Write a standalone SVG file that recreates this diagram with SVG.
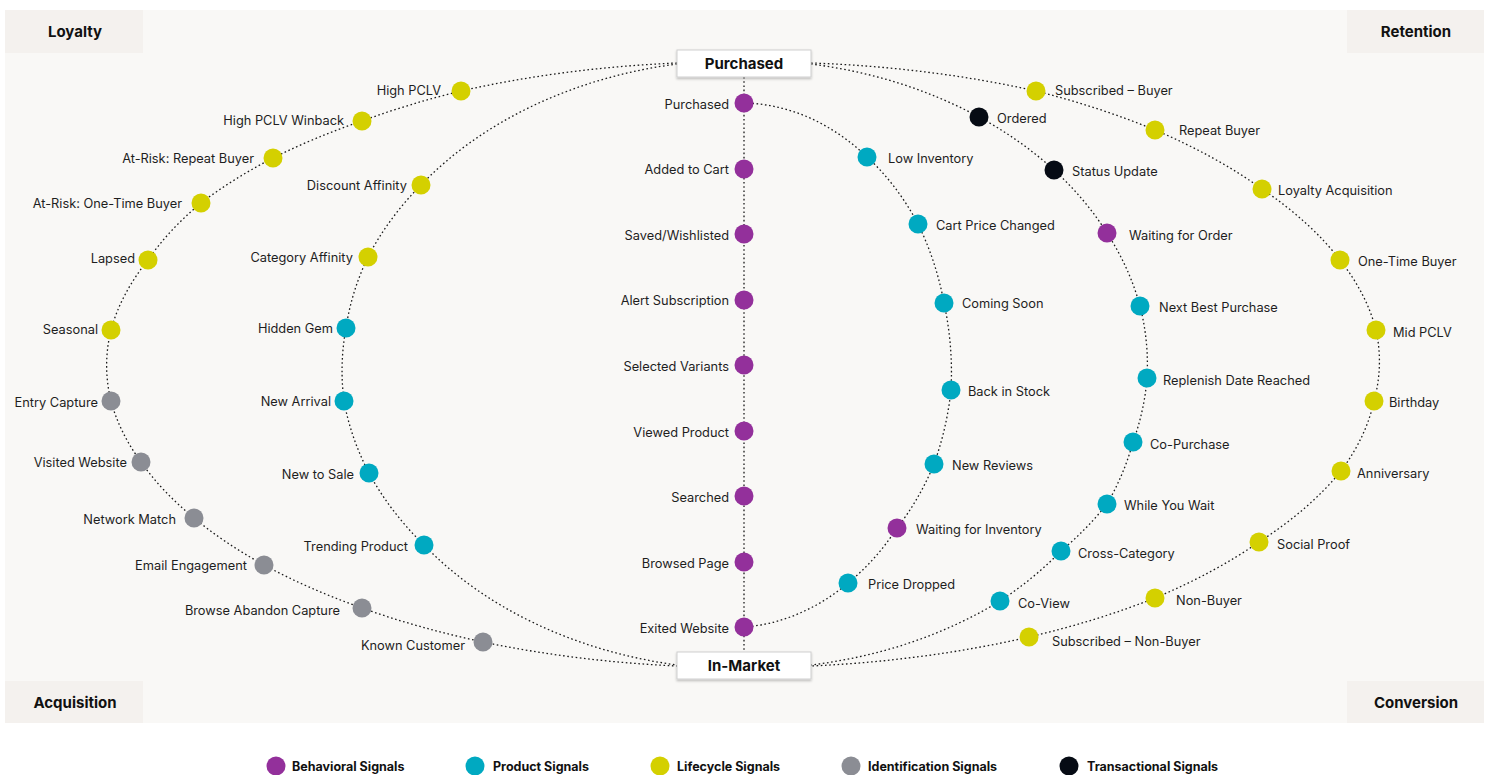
<svg xmlns="http://www.w3.org/2000/svg" width="1489" height="775" viewBox="0 0 1489 775">
<style>
.bg{fill:#F9F8F6}
.corner{fill:#F4F1EE}
.ctitle{font-family:Inter,"Liberation Sans",sans-serif;font-weight:700;font-size:15px;fill:#111;text-anchor:middle}
.lbl{font-family:Inter,"Liberation Sans",sans-serif;font-size:12.8px;fill:#1e1e1e}
.l{text-anchor:end}
.conn{fill:none;stroke:#1a1a1a;stroke-width:1.3;stroke-dasharray:1.6 2.6}
.beh{fill:#93309B}
.prod{fill:#00A9C1}
.life{fill:#D4D000}
.ident{fill:#8B8D94}
.trans{fill:#060B14}
.box{fill:#fff;stroke:#cfcfcf;stroke-width:1}
.boxt{font-family:Inter,"Liberation Sans",sans-serif;font-weight:700;font-size:15px;fill:#111;text-anchor:middle}
.leg{font-family:Inter,"Liberation Sans",sans-serif;font-weight:700;font-size:12.5px;fill:#111}
</style>
<defs>
<filter id="sh" x="-10%" y="-30%" width="120%" height="170%">
<feDropShadow dx="0" dy="1.5" stdDeviation="1" flood-color="#000" flood-opacity="0.25"/>
</filter>
</defs>
<rect class="bg" x="5" y="10" width="1479" height="713"/>
<g id="corner-loyalty"><rect class="corner" x="5" y="10" width="138" height="43"/><text class="ctitle" x="75" y="37">Loyalty</text></g>
<g id="corner-retention"><rect class="corner" x="1347" y="10" width="137" height="43"/><text class="ctitle" x="1416" y="37">Retention</text></g>
<g id="corner-acquisition"><rect class="corner" x="5" y="681" width="138" height="42"/><text class="ctitle" x="75" y="708">Acquisition</text></g>
<g id="corner-conversion"><rect class="corner" x="1347" y="681" width="137" height="42"/><text class="ctitle" x="1416" y="708">Conversion</text></g>

<g id="connectors">
<path class="conn" d="M744,77 L744,652"/>
<path class="conn" d="M677,63 A635,303 0 0 0 461,91 A635,303 0 0 0 362,121 A635,303 0 0 0 273,158 A635,303 0 0 0 201,203 A635,303 0 0 0 148,260 A635,303 0 0 0 111,330 A635,303 0 0 0 111,401 A635,303 0 0 0 141,462 A635,303 0 0 0 194,518 A635,303 0 0 0 264,565 A635,303 0 0 0 362,608 A635,303 0 0 0 483,642 A635,303 0 0 0 677,666"/>
<path class="conn" d="M677,64 A401,306 0 0 0 421,185 A401,306 0 0 0 368,257 A401,306 0 0 0 346,328 A401,306 0 0 0 344,401 A401,306 0 0 0 369,473 A401,306 0 0 0 424,545 A401,306 0 0 0 677,665"/>
<path class="conn" d="M744,103 A208,262 0 0 1 867,157 A208,262 0 0 1 918,224 A208,262 0 0 1 944,303 A208,262 0 0 1 951,390 A208,262 0 0 1 934,464 A208,262 0 0 1 897,528 A208,262 0 0 1 848,583 A208,262 0 0 1 744,627"/>
<path class="conn" d="M811,64 A403,306 0 0 1 979,117 A403,306 0 0 1 1054,170 A403,306 0 0 1 1107,233 A403,306 0 0 1 1140,306 A403,306 0 0 1 1147,378 A403,306 0 0 1 1133,442 A403,306 0 0 1 1107,504 A403,306 0 0 1 1061,551 A403,306 0 0 1 1000,601 A403,306 0 0 1 811,665"/>
<path class="conn" d="M811,63 A635,303 0 0 1 1036,91 A635,303 0 0 1 1155,130 A635,303 0 0 1 1262,189 A635,303 0 0 1 1340,260 A635,303 0 0 1 1376,330 A635,303 0 0 1 1374,401 A635,303 0 0 1 1341,471 A635,303 0 0 1 1259,542 A635,303 0 0 1 1155,598 A635,303 0 0 1 1029,637 A635,303 0 0 1 811,666"/>
</g>

<g id="box-purchased"><rect class="box" filter="url(#sh)" x="677" y="50" width="134" height="27"/><text class="boxt" x="744" y="69">Purchased</text></g>
<g id="box-inmarket"><rect class="box" filter="url(#sh)" x="677" y="652" width="134" height="27"/><text class="boxt" x="744" y="671">In-Market</text></g>

<!-- Left outer -->
<g id="n-high-pclv"><circle class="life" cx="461" cy="91" r="9.5"/><text class="lbl l" x="441" y="94.5">High PCLV</text></g>
<g id="n-high-pclv-winback"><circle class="life" cx="362" cy="121" r="9.5"/><text class="lbl l" x="344" y="125">High PCLV Winback</text></g>
<g id="n-atrisk-repeat"><circle class="life" cx="273" cy="158" r="9.5"/><text class="lbl l" x="254" y="162.5">At-Risk: Repeat Buyer</text></g>
<g id="n-atrisk-onetime"><circle class="life" cx="201" cy="203" r="9.5"/><text class="lbl l" x="182" y="207.5">At-Risk: One-Time Buyer</text></g>
<g id="n-lapsed"><circle class="life" cx="148" cy="260" r="9.5"/><text class="lbl l" x="135" y="262.5">Lapsed</text></g>
<g id="n-seasonal"><circle class="life" cx="111" cy="330" r="9.5"/><text class="lbl l" x="98" y="333.5">Seasonal</text></g>
<g id="n-entry-capture"><circle class="ident" cx="111" cy="401" r="9.5"/><text class="lbl l" x="98" y="406.5">Entry Capture</text></g>
<g id="n-visited-website"><circle class="ident" cx="141" cy="462" r="9.5"/><text class="lbl l" x="127" y="466.5">Visited Website</text></g>
<g id="n-network-match"><circle class="ident" cx="194" cy="518" r="9.5"/><text class="lbl l" x="176" y="523.5">Network Match</text></g>
<g id="n-email-engagement"><circle class="ident" cx="264" cy="565" r="9.5"/><text class="lbl l" x="247" y="569.5">Email Engagement</text></g>
<g id="n-browse-abandon"><circle class="ident" cx="362" cy="608" r="9.5"/><text class="lbl l" x="340" y="614.5">Browse Abandon Capture</text></g>
<g id="n-known-customer"><circle class="ident" cx="483" cy="642" r="9.5"/><text class="lbl l" x="465" y="649.5">Known Customer</text></g>

<!-- Left inner -->
<g id="n-discount-affinity"><circle class="life" cx="421" cy="185" r="9.5"/><text class="lbl l" x="407" y="189.5">Discount Affinity</text></g>
<g id="n-category-affinity"><circle class="life" cx="368" cy="257" r="9.5"/><text class="lbl l" x="353" y="261.5">Category Affinity</text></g>
<g id="n-hidden-gem"><circle class="prod" cx="346" cy="328" r="9.5"/><text class="lbl l" x="333" y="332.5">Hidden Gem</text></g>
<g id="n-new-arrival"><circle class="prod" cx="344" cy="401" r="9.5"/><text class="lbl l" x="331" y="405.5">New Arrival</text></g>
<g id="n-new-to-sale"><circle class="prod" cx="369" cy="473" r="9.5"/><text class="lbl l" x="354" y="478.5">New to Sale</text></g>
<g id="n-trending-product"><circle class="prod" cx="424" cy="545" r="9.5"/><text class="lbl l" x="408" y="550.5">Trending Product</text></g>

<!-- Center -->
<g id="n-purchased"><circle class="beh" cx="744" cy="103" r="9.5"/><text class="lbl l" x="729" y="108.5">Purchased</text></g>
<g id="n-added-to-cart"><circle class="beh" cx="744" cy="169" r="9.5"/><text class="lbl l" x="729" y="173.5">Added to Cart</text></g>
<g id="n-saved"><circle class="beh" cx="744" cy="234" r="9.5"/><text class="lbl l" x="729" y="239.5">Saved/Wishlisted</text></g>
<g id="n-alert-sub"><circle class="beh" cx="744" cy="300" r="9.5"/><text class="lbl l" x="729" y="304.5">Alert Subscription</text></g>
<g id="n-selected-variants"><circle class="beh" cx="744" cy="365" r="9.5"/><text class="lbl l" x="729" y="370.5">Selected Variants</text></g>
<g id="n-viewed-product"><circle class="beh" cx="744" cy="431" r="9.5"/><text class="lbl l" x="729" y="436.5">Viewed Product</text></g>
<g id="n-searched"><circle class="beh" cx="744" cy="496" r="9.5"/><text class="lbl l" x="729" y="501.5">Searched</text></g>
<g id="n-browsed-page"><circle class="beh" cx="744" cy="562" r="9.5"/><text class="lbl l" x="729" y="567.5">Browsed Page</text></g>
<g id="n-exited-website"><circle class="beh" cx="744" cy="627" r="9.5"/><text class="lbl l" x="729" y="632.5">Exited Website</text></g>

<!-- Right inner -->
<g id="n-low-inventory"><circle class="prod" cx="867" cy="157" r="9.5"/><text class="lbl" x="888" y="162.5">Low Inventory</text></g>
<g id="n-cart-price-changed"><circle class="prod" cx="918" cy="224" r="9.5"/><text class="lbl" x="936" y="229.5">Cart Price Changed</text></g>
<g id="n-coming-soon"><circle class="prod" cx="944" cy="303" r="9.5"/><text class="lbl" x="962" y="307.5">Coming Soon</text></g>
<g id="n-back-in-stock"><circle class="prod" cx="951" cy="390" r="9.5"/><text class="lbl" x="968" y="395.5">Back in Stock</text></g>
<g id="n-new-reviews"><circle class="prod" cx="934" cy="464" r="9.5"/><text class="lbl" x="952" y="469.5">New Reviews</text></g>
<g id="n-waiting-inventory"><circle class="beh" cx="897" cy="528" r="9.5"/><text class="lbl" x="916" y="533.5">Waiting for Inventory</text></g>
<g id="n-price-dropped"><circle class="prod" cx="848" cy="583" r="9.5"/><text class="lbl" x="868" y="588.5">Price Dropped</text></g>

<!-- Right middle -->
<g id="n-ordered"><circle class="trans" cx="979" cy="117" r="9.5"/><text class="lbl" x="997" y="122.5">Ordered</text></g>
<g id="n-status-update"><circle class="trans" cx="1054" cy="170" r="9.5"/><text class="lbl" x="1072" y="175.5">Status Update</text></g>
<g id="n-waiting-order"><circle class="beh" cx="1107" cy="233" r="9.5"/><text class="lbl" x="1129" y="239.5">Waiting for Order</text></g>
<g id="n-next-best"><circle class="prod" cx="1140" cy="306" r="9.5"/><text class="lbl" x="1159" y="311.5">Next Best Purchase</text></g>
<g id="n-replenish"><circle class="prod" cx="1147" cy="378" r="9.5"/><text class="lbl" x="1163" y="384.5">Replenish Date Reached</text></g>
<g id="n-co-purchase"><circle class="prod" cx="1133" cy="442" r="9.5"/><text class="lbl" x="1150" y="448.5">Co-Purchase</text></g>
<g id="n-while-you-wait"><circle class="prod" cx="1107" cy="504" r="9.5"/><text class="lbl" x="1124" y="509.5">While You Wait</text></g>
<g id="n-cross-category"><circle class="prod" cx="1061" cy="551" r="9.5"/><text class="lbl" x="1078" y="557.5">Cross-Category</text></g>
<g id="n-co-view"><circle class="prod" cx="1000" cy="601" r="9.5"/><text class="lbl" x="1018" y="607.5">Co-View</text></g>

<!-- Right outer -->
<g id="n-subscribed-buyer"><circle class="life" cx="1036" cy="91" r="9.5"/><text class="lbl" x="1055" y="94.5">Subscribed – Buyer</text></g>
<g id="n-repeat-buyer"><circle class="life" cx="1155" cy="130" r="9.5"/><text class="lbl" x="1179" y="134.5">Repeat Buyer</text></g>
<g id="n-loyalty-acq"><circle class="life" cx="1262" cy="189" r="9.5"/><text class="lbl" x="1278" y="194.5">Loyalty Acquisition</text></g>
<g id="n-onetime-buyer"><circle class="life" cx="1340" cy="260" r="9.5"/><text class="lbl" x="1358" y="265.5">One-Time Buyer</text></g>
<g id="n-mid-pclv"><circle class="life" cx="1376" cy="330" r="9.5"/><text class="lbl" x="1393" y="336.5">Mid PCLV</text></g>
<g id="n-birthday"><circle class="life" cx="1374" cy="401" r="9.5"/><text class="lbl" x="1389" y="406.5">Birthday</text></g>
<g id="n-anniversary"><circle class="life" cx="1341" cy="471" r="9.5"/><text class="lbl" x="1357" y="477.5">Anniversary</text></g>
<g id="n-social-proof"><circle class="life" cx="1259" cy="542" r="9.5"/><text class="lbl" x="1277" y="548.5">Social Proof</text></g>
<g id="n-non-buyer"><circle class="life" cx="1155" cy="598" r="9.5"/><text class="lbl" x="1176" y="604.5">Non-Buyer</text></g>
<g id="n-subscribed-nonbuyer"><circle class="life" cx="1029" cy="637" r="9.5"/><text class="lbl" x="1052" y="645.5">Subscribed – Non-Buyer</text></g>

<!-- Legend -->
<g id="legend">
<g id="leg-behavioral"><circle class="beh" cx="276" cy="766" r="9.5"/><text class="leg" x="292" y="771">Behavioral Signals</text></g>
<g id="leg-product"><circle class="prod" cx="475" cy="766" r="9.5"/><text class="leg" x="493" y="771">Product Signals</text></g>
<g id="leg-lifecycle"><circle class="life" cx="660" cy="766" r="9.5"/><text class="leg" x="677" y="771">Lifecycle Signals</text></g>
<g id="leg-identification"><circle class="ident" cx="851" cy="766" r="9.5"/><text class="leg" x="868" y="771">Identification Signals</text></g>
<g id="leg-transactional"><circle class="trans" cx="1069" cy="766" r="9.5"/><text class="leg" x="1087" y="771">Transactional Signals</text></g>
</g>
</svg>
